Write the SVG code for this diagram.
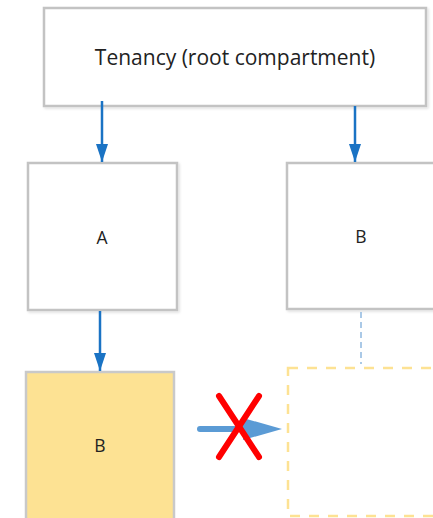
<svg xmlns="http://www.w3.org/2000/svg" width="433" height="518" viewBox="0 0 433 518">
  <defs>
    <style>
      .box { fill: #ffffff; stroke: #c3c3c3; stroke-width: 2.5; }
      .lbl { font-family: "Open Sans", "Liberation Sans", sans-serif; fill: #222222; text-anchor: middle; }
      .conn { stroke: #1a73c4; stroke-width: 2.5; fill: none; }
    </style>
    <marker id="arr" viewBox="0 0 18 12" refX="18" refY="6" markerWidth="18" markerHeight="12" markerUnits="userSpaceOnUse" orient="auto">
      <path d="M0,0 L18,6 L0,12 Z" fill="#1a73c4"/>
    </marker>
    <filter id="sh" x="-5%" y="-5%" width="115%" height="115%">
      <feDropShadow dx="1.5" dy="1.5" stdDeviation="1" flood-color="#000" flood-opacity="0.12"/>
    </filter>
  </defs>

  <g id="tenancy">
    <rect class="box" x="44" y="8" width="382" height="98" filter="url(#sh)"/>
    <text class="lbl" x="235" y="65" font-size="21">Tenancy (root compartment)</text>
  </g>

  <g id="nodeA">
    <rect class="box" x="28" y="163" width="149" height="147" filter="url(#sh)"/>
    <text class="lbl" x="102" y="244" font-size="17.5">A</text>
  </g>

  <g id="nodeB-top">
    <rect class="box" x="287" y="163" width="160" height="146" filter="url(#sh)"/>
    <text class="lbl" x="361" y="243" font-size="17.5">B</text>
  </g>

  <g id="nodeB-child">
    <rect x="26" y="372" width="148" height="150" fill="#fde293" stroke="#c9c9c9" stroke-width="2.5"/>
    <text class="lbl" x="100" y="452" font-size="17.5">B</text>
  </g>

  <g id="nodeB-ghost">
    <rect x="288" y="368" width="160" height="148" fill="none" stroke="#fde293" stroke-width="2.5" stroke-dasharray="10,9"/>
  </g>

  <g id="connectors">
    <line class="conn" x1="102" y1="101" x2="102" y2="162" marker-end="url(#arr)"/>
    <line class="conn" x1="355" y1="106" x2="355" y2="162" marker-end="url(#arr)"/>
    <line class="conn" x1="100" y1="311" x2="100" y2="371" marker-end="url(#arr)"/>
    <line x1="361" y1="312" x2="361" y2="364" stroke="#8fb8e0" stroke-width="1.5" stroke-dasharray="6,4"/>
    <line x1="200" y1="429" x2="246" y2="429" stroke="#5b9bd5" stroke-width="6" stroke-linecap="round"/>
    <path d="M243,418 L282,429 L243,440 Z" fill="#5b9bd5"/>
  </g>

  <g id="cross">
    <path d="M219,396 C232,416 246,437 259,457" stroke="#ff0000" stroke-width="6" fill="none" stroke-linecap="round"/>
    <path d="M259,396 C246,416 232,437 219,457" stroke="#ff0000" stroke-width="6" fill="none" stroke-linecap="round"/>
  </g>
</svg>
